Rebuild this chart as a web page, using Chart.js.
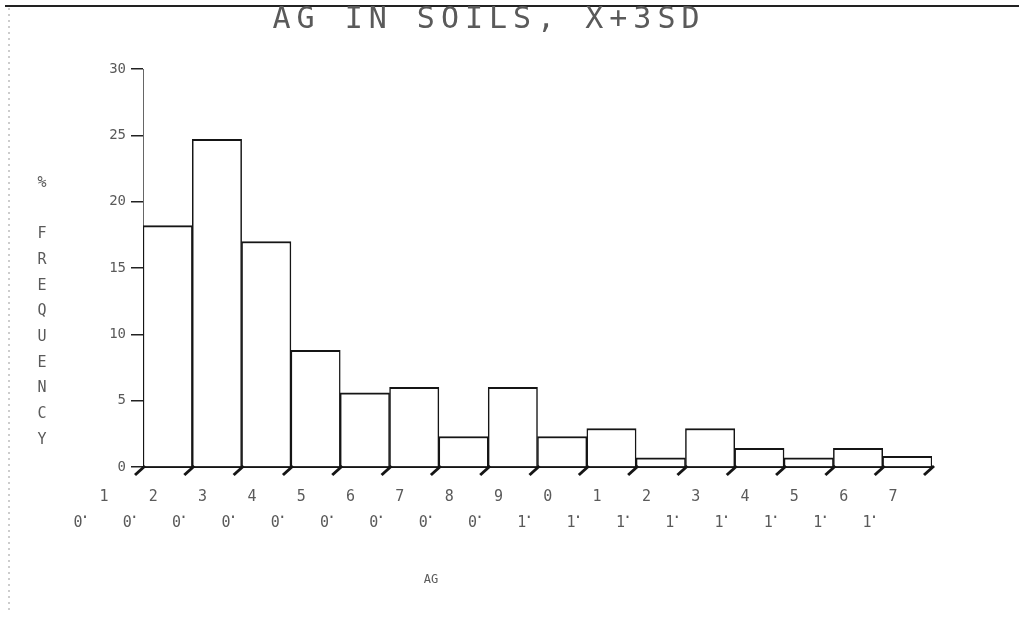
<!DOCTYPE html>
<html>
<head>
<meta charset="utf-8">
<script src="https://cdn.jsdelivr.net/npm/chart.js@4/dist/chart.umd.min.js"></script>
<style>
  html, body { margin: 0; padding: 0; background: #fff; }
  #wrap { width: 1019px; height: 620px; position: relative; }
</style>
</head>
<body>
<div id="wrap"><canvas id="c" width="1019" height="620"></canvas></div>
<script>
// Histogram of Ag concentrations in soil samples (class width 0.1)
const binLabels = ['0.1-0.2', '0.2-0.3', '0.3-0.4', '0.4-0.5', '0.5-0.6', '0.6-0.7', '0.7-0.8', '0.8-0.9',
                   '0.9-1.0', '1.0-1.1', '1.1-1.2', '1.2-1.3', '1.3-1.4', '1.4-1.5', '1.5-1.6', '1.6-1.7'];
const freqPct = [18.2, 24.7, 17.0, 8.8, 5.6, 6.0, 2.3, 6.0, 2.3, 2.9, 0.7, 2.9, 1.4, 0.7, 1.4, 0.8];
const edgeLabels = ['0.1', '0.2', '0.3', '0.4', '0.5', '0.6', '0.7', '0.8', '0.9',
                    '1.0', '1.1', '1.2', '1.3', '1.4', '1.5', '1.6', '1.7'];
const yMin = 0, yMax = 30, yStep = 5;
const titleText = 'AG IN SOILS, X+3SD';
const yTitleText = '% FREQUENCY';
const xTitleText = 'AG';

const INK = '#151515';
const PEN = '#5a5a5a';
const MONO = '"DejaVu Sans Mono", "Liberation Mono", monospace';

// Plotter-style decorations: frame, title, stacked y title, slanted ticks, edge labels
const plotterDecor = {
  id: 'plotterDecor',
  afterDraw(chart) {
    const ctx = chart.ctx;
    const xs = chart.scales.x;
    const ys = chart.scales.y;
    const base = ys.getPixelForValue(0);
    ctx.save();

    // page frame: top rule and faint dotted left edge
    ctx.strokeStyle = '#222';
    ctx.lineWidth = 2;
    ctx.beginPath();
    ctx.moveTo(5, 6); ctx.lineTo(1019, 6);
    ctx.stroke();
    ctx.strokeStyle = '#9a9a9a';
    ctx.lineWidth = 1;
    ctx.setLineDash([2, 4]);
    ctx.beginPath();
    ctx.moveTo(9, 8); ctx.lineTo(9, 612);
    ctx.stroke();
    ctx.setLineDash([]);

    // title
    ctx.fillStyle = PEN;
    ctx.font = '30px ' + MONO;
    ctx.textAlign = 'center';
    ctx.textBaseline = 'middle';
    ctx.letterSpacing = '6px';
    ctx.fillText(titleText, 489, 20);
    ctx.letterSpacing = '0px';

    // vertical title, letters stacked upright
    ctx.font = '15px ' + MONO;
    const chars = Array.from(yTitleText);
    const y0 = 183, y1 = 440;
    const step = (y1 - y0) / (chars.length - 1);
    chars.forEach((ch, k) => {
      if (ch !== ' ') ctx.fillText(ch, 42, y0 + k * step);
    });

    // slanted tick marks and diagonal labels at class edges
    ctx.strokeStyle = INK;
    ctx.lineWidth = 3;
    ctx.font = '15px ' + MONO;
    edgeLabels.forEach((lab, i) => {
      const x = xs.getPixelForValue(i - 0.5);
      ctx.beginPath();
      ctx.moveTo(x + 2, base - 1);
      ctx.lineTo(x - 8, base + 8);
      ctx.stroke();
      // characters run diagonally up to the right; the decimal point sits tight to the first digit
      const cs = Array.from(lab);
      const adv = cs.map(ch => (ch === '.' ? 0.3 : 1));
      const total = adv.slice(1).reduce((a, b) => a + b, 0) || 1;
      let acc = 0;
      cs.forEach((ch, k) => {
        if (k > 0) acc += adv[k];
        const t = acc / total;
        const px = (x - 65) + t * 26 + (ch === '.' ? 1 : 0);
        const py = 523 - t * 26 - (ch === '.' ? 3 : 0);
        ctx.fillStyle = PEN;
        ctx.fillText(ch, px, py);
      });
    });

    // x title
    ctx.font = '12px ' + MONO;
    ctx.fillText(xTitleText, 431, 580);
    ctx.restore();
  }
};

new Chart(document.getElementById('c'), {
  type: 'bar',
  data: {
    labels: binLabels,
    datasets: [{
      data: freqPct,
      backgroundColor: '#ffffff',
      borderColor: INK,
      borderWidth: { top: 2, left: 1.5, right: 1.5, bottom: 0 },
      borderSkipped: false,
      barPercentage: 1,
      categoryPercentage: 1
    }]
  },
  options: {
    responsive: false,
    animation: false,
    layout: { padding: { left: 0, right: 87, top: 69, bottom: 0 } },
    plugins: { legend: { display: false }, title: { display: false }, tooltip: { enabled: false } },
    scales: {
      x: {
        type: 'category',
        offset: true,
        grid: { display: false },
        ticks: { display: false },
        border: { display: true, color: INK, width: 2 },
        afterFit(s) { s.height = 153; }
      },
      y: {
        min: yMin,
        max: yMax,
        ticks: {
          stepSize: yStep,
          padding: 5,
          color: PEN,
          font: { family: MONO, size: 14 }
        },
        grid: { drawOnChartArea: false, drawTicks: true, tickLength: 12, color: '#222', lineWidth: 1.5 },
        border: { display: true, color: '#666', width: 1, dash: [2, 2] },
        afterFit(s) { s.width = 143; }
      }
    }
  },
  plugins: [plotterDecor]
});
</script>
</body>
</html>
